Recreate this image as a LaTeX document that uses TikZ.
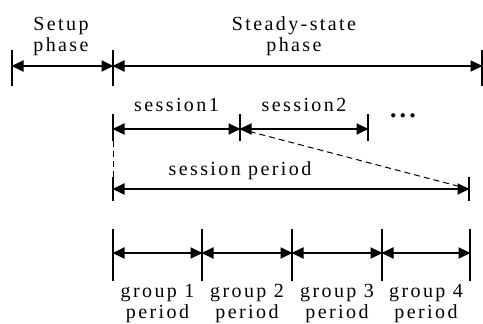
\documentclass[tikz,border=0pt]{standalone}
\usepackage{fontspec}
\setmainfont{Liberation Serif}[LetterSpace=12]
\usetikzlibrary{arrows.meta,calc}
\begin{document}
\begin{tikzpicture}[x=1pt,y=-1pt,
  span/.style={{Triangle[length=12pt,width=11pt]}-{Triangle[length=12pt,width=11pt]}, line width=1.8pt, shorten <=-0.5pt, shorten >=-0.5pt},
  tick/.style={line width=1.8pt},
  lbl/.style={font=\fontsize{20}{21}\selectfont, align=center, inner sep=0pt, anchor=base},
  guide/.style={line width=1pt, dash pattern=on 6pt off 4pt}]
\useasboundingbox (0,0) rectangle (483,324);

% phase row (two-line labels are placed by the baseline of their last line)
\foreach \n/\x in {a/12, b/113, c/482} {
  \coordinate (p\n) at (\x,66);
  \draw[tick] (\x,50) -- (\x,86);
}
\draw[span] (pa) -- (pb);
\draw[span] (pb) -- (pc);
\node[lbl] (setup) at (61,52) {Setup\\phase};
\node[lbl] (steady) at (294,52) {Steady-state\\phase};

% session row
\foreach \n/\x in {a/113, b/240, c/368} {
  \coordinate (s\n) at (\x,129);
  \draw[tick] (\x,114) -- (\x,141);
}
\draw[span] (sa) -- (sb);
\draw[span] (sb) -- (sc);
\node[lbl] (sess1) at (176.5,111) {session1};
\node[lbl] (sess2) at (304,111) {session2};
\node[font=\fontsize{26}{26}\bfseries, inner sep=0pt, anchor=base] (more) at (403,117) {...};

% session period
\coordinate (va) at (113,141);
\coordinate (vb) at (113,178);
\foreach \n/\x in {a/113, b/469} {
  \coordinate (q\n) at (\x,189);
  \draw[tick] (\x,177) -- (\x,201);
}
\draw[span] (qa) -- (qb);
\draw[guide] (va) -- (vb);
\draw[guide] (sb) -- (qb);
\node[lbl] (speriod) at (240,175) {session period};

% group periods
\foreach \n/\x in {0/113, 1/202, 2/292, 3/382, 4/470} {
  \coordinate (g\n) at (\x,253);
  \draw[tick] (\x,229) -- (\x,281);
}
\foreach \a/\b/\k in {0/1/1, 1/2/2, 2/3/3, 3/4/4} {
  \draw[span] (g\a) -- (g\b);
  \node[lbl] (grp\k) at ($(g\a)!0.5!(g\b)+(0,65)$) {group \k\\period};
}
\end{tikzpicture}
\end{document}
